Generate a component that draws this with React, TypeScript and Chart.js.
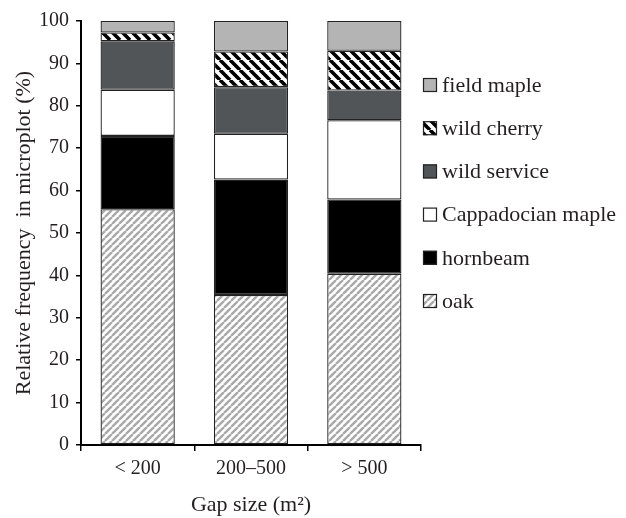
import React, { useEffect, useRef } from "react";
import { Chart, registerables } from "chart.js";

Chart.register(...registerables);

// ---- data ----
const categories = ["< 200", "200–500", "> 500"];
const oak = [55.6, 35.4, 40.4];
const hornbeam = [17.3, 27.2, 17.5];
const cappadocianMaple = [10.9, 10.8, 18.7];
const wildService = [11.4, 11.0, 7.0];
const wildCherry = [2.1, 8.4, 9.4];
const fieldMaple = [2.7, 7.2, 7.0];
const seriesLabels = ["oak", "hornbeam", "Cappadocian maple", "wild service", "wild cherry", "field maple"];
const yMin = 0;
const yMax = 100;
const yStep = 10;

const FONT = "'Liberation Serif', 'Times New Roman', serif";
const TEXT = "#231f20";

function stripes(size: number, fg: string, bg: string, lw: number, dir: "/" | "\\"): CanvasPattern | string {
  const c = document.createElement("canvas");
  c.width = size;
  c.height = size;
  const g = c.getContext("2d");
  if (!g) return bg;
  g.fillStyle = bg;
  g.fillRect(0, 0, size, size);
  g.strokeStyle = fg;
  g.lineWidth = lw;
  g.beginPath();
  for (let k = -1; k <= 1; k++) {
    if (dir === "/") {
      g.moveTo(k * size, size);
      g.lineTo(k * size + size, 0);
    } else {
      g.moveTo(k * size, 0);
      g.lineTo(k * size + size, size);
    }
  }
  g.stroke();
  const p = g.createPattern(c, "repeat");
  return p || bg;
}

const sideLegend = {
  id: "sideLegend",
  afterDraw(chart: any) {
    const ctx = chart.ctx as CanvasRenderingContext2D;
    const ds = chart.data.datasets;
    const x = chart.chartArea.right + 2;
    const yStart = chart.chartArea.top + 64;
    const gap = 43.2;
    ctx.save();
    ctx.font = `22px ${FONT}`;
    ctx.textBaseline = "middle";
    ctx.textAlign = "left";
    for (let i = 0; i < ds.length; i++) {
      const d = ds[ds.length - 1 - i];
      const y = yStart + i * gap;
      ctx.fillStyle = d.backgroundColor;
      ctx.fillRect(x, y - 7, 14, 14);
      ctx.strokeStyle = "#222";
      ctx.lineWidth = 1.2;
      ctx.strokeRect(x + 0.5, y - 6.5, 13, 13);
      ctx.fillStyle = TEXT;
      ctx.fillText(d.label, x + 19, y + 1);
    }
    ctx.restore();
  },
};

export default function App() {
  const ref = useRef<HTMLCanvasElement>(null);

  useEffect(() => {
    const canvas = ref.current;
    if (!canvas) return;
    const oakFill = stripes(7, "#a9a9a9", "#ffffff", 2.4, "/");
    const cherryFill = stripes(10, "#000000", "#ffffff", 3.6, "\\");
    const fills = [oakFill, "#000000", "#ffffff", "#525557", cherryFill, "#b4b4b4"];
    const values = [oak, hornbeam, cappadocianMaple, wildService, wildCherry, fieldMaple];

    const chart = new Chart(canvas, {
      type: "bar",
      data: {
        labels: categories,
        datasets: values.map((v, i) => ({
          label: seriesLabels[i],
          data: v,
          backgroundColor: fills[i] as any,
          borderColor: "#222222",
          borderWidth: 1.3,
          borderSkipped: false,
          barPercentage: 0.655,
          categoryPercentage: 1,
        })),
      },
      options: {
        responsive: false,
        animation: false,
        events: [],
        layout: { padding: { top: 21, right: 205, left: 0, bottom: 0 } },
        plugins: {
          legend: { display: false },
          tooltip: { enabled: false },
        },
        scales: {
          x: {
            stacked: true,
            grid: {
              offset: true,
              drawOnChartArea: false,
              drawTicks: true,
              tickLength: 6,
              color: "#000",
              lineWidth: 1.5,
            },
            border: { display: true, color: "#000", width: 2 },
            ticks: {
              color: TEXT,
              font: { family: FONT, size: 20 },
              padding: 6,
              maxRotation: 0,
            },
            title: {
              display: true,
              text: "Gap size (m²)",
              color: TEXT,
              font: { family: FONT, size: 22 },
              padding: { top: 0, bottom: 0 },
            },
            afterFit: (s: any) => {
              s.height = 73;
            },
          },
          y: {
            stacked: true,
            min: yMin,
            max: yMax,
            grid: {
              drawOnChartArea: false,
              drawTicks: true,
              tickLength: 5,
              color: "#000",
              lineWidth: 1.5,
            },
            border: { display: true, color: "#000", width: 2 },
            ticks: {
              stepSize: yStep,
              color: TEXT,
              font: { family: FONT, size: 20 },
              padding: 7,
            },
            title: {
              display: true,
              text: "Relative frequency  in microplot (%)",
              color: TEXT,
              font: { family: FONT, size: 22 },
              padding: { top: 11, bottom: 0 },
            },
            afterFit: (s: any) => {
              s.width = 81;
            },
          },
        },
      },
      plugins: [sideLegend],
    });
    return () => chart.destroy();
  }, []);

  return (
    <div style={{ position: "fixed", left: 0, top: 0, width: 626, height: 518, background: "#fff" }}>
      <canvas ref={ref} width={626} height={518} style={{ display: "block" }} />
    </div>
  );
}
